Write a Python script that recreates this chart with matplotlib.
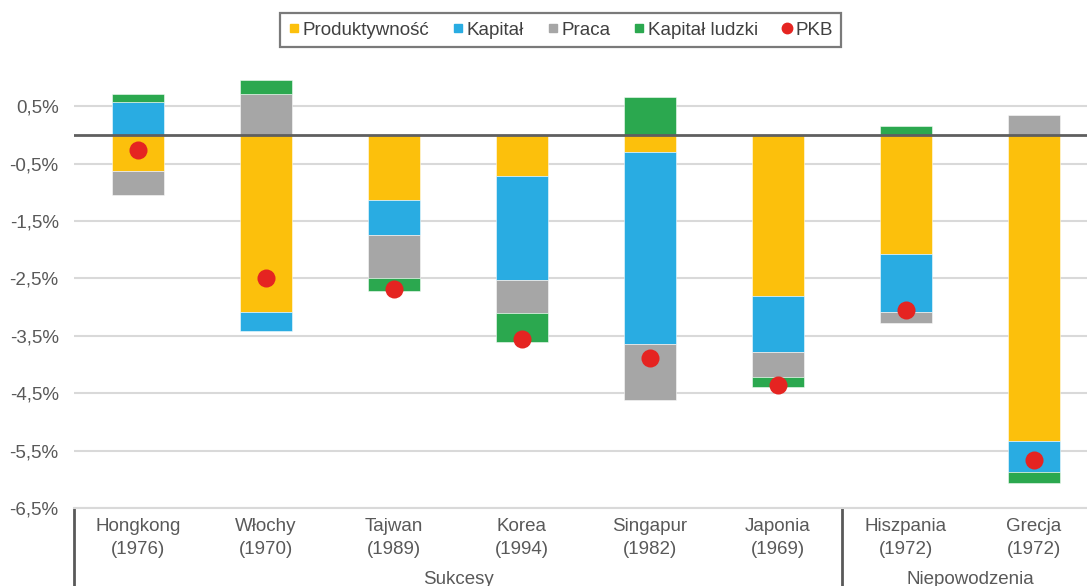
import numpy as np
import matplotlib
matplotlib.use("Agg")
import matplotlib.pyplot as plt
from matplotlib.lines import Line2D
from matplotlib import transforms

plt.rcParams['font.family'] = ['Liberation Sans', 'DejaVu Sans']

categories = ["Hongkong\n(1976)", "Włochy\n(1970)", "Tajwan\n(1989)", "Korea\n(1994)",
              "Singapur\n(1982)", "Japonia\n(1969)", "Hiszpania\n(1972)", "Grecja\n(1972)"]
groups = ["Sukcesy", "Niepowodzenia"]
group_sizes = [6, 2]

produktywnosc = [-0.63, -3.09, -1.14, -0.72, -0.30, -2.81, -2.07, -5.33]
kapital       = [0.58, -0.33, -0.61, -1.81, -3.34, -0.97, -1.02, -0.55]
praca         = [-0.41, 0.71, -0.74, -0.57, -0.98, -0.43, -0.18, 0.35]
kapital_ludzki = [0.13, 0.24, -0.23, -0.50, 0.67, -0.18, 0.16, -0.19]
pkb           = [-0.27, -2.50, -2.69, -3.56, -3.89, -4.36, -3.05, -5.67]

series_names = ["Produktywność", "Kapitał", "Praca", "Kapitał ludzki"]
series_vals = [produktywnosc, kapital, praca, kapital_ludzki]
colors = ["#FCC00C", "#29ACE2", "#A6A6A6", "#2BA84F"]
red = "#E52421"

yticks = [0.5, -0.5, -1.5, -2.5, -3.5, -4.5, -5.5, -6.5]
ytick_labels = ["0,5%", "-0,5%", "-1,5%", "-2,5%", "-3,5%", "-4,5%", "-5,5%", "-6,5%"]

W, H = 1087, 586
fig = plt.figure(figsize=(W / 100, H / 100), dpi=100)
ymin, ymax = -6.5, 1.3
px_per_unit = 373 / 6.5
ax_bottom_px = 508
ax_top_px = 135 - ymax * px_per_unit
ax = fig.add_axes([74 / W, (H - ax_bottom_px) / H, 1024 / W, (ax_bottom_px - ax_top_px) / H])

x = np.arange(len(categories))
pos_bottom = np.zeros(len(x))
neg_bottom = np.zeros(len(x))
for vals, c in zip(series_vals, colors):
    v = np.array(vals)
    bottom = np.where(v >= 0, pos_bottom, neg_bottom)
    ax.bar(x, v, bottom=bottom, width=0.414, color=c, edgecolor=(1, 1, 1, 0.6),
           linewidth=0.6, zorder=2)
    pos_bottom += np.clip(v, 0, None)
    neg_bottom += np.clip(v, None, 0)

ax.scatter(x, pkb, s=13 ** 2, color=red, zorder=4, linewidths=0)
ax.axhline(0, color="#5F5F5F", linewidth=2, zorder=3)

ax.set_xlim(-0.5, len(x) - 0.5)
ax.set_ylim(ymin, ymax)
ax.set_yticks(yticks)
ax.set_yticklabels(ytick_labels)
ax.yaxis.grid(True, color="#D9D9D9", linewidth=1.5, zorder=0)
ax.set_axisbelow(True)
ax.tick_params(axis='y', length=0, pad=11, labelsize=13.5, labelcolor="#595959")
ax.set_xticks(x)
ax.set_xticklabels(categories, linespacing=1.45)
ax.tick_params(axis='x', length=0, pad=7, labelsize=13.5, labelcolor="#595959")
for s in ["top", "right", "left"]:
    ax.spines[s].set_visible(False)
ax.spines["bottom"].set_color("#D9D9D9")
ax.spines["bottom"].set_linewidth(1.5)

# group labels and separators
trans = transforms.blended_transform_factory(ax.transData, fig.transFigure)
start = -0.5
bottom_fig = (H - ax_bottom_px) / H
ax.plot([start, start], [0, bottom_fig], transform=trans, color="#595959",
        linewidth=2, clip_on=False)
for g, n in zip(groups, group_sizes):
    end = start + n
    ax.text((start + end) / 2, (H - 571) / H, g, transform=trans, ha="center", va="top",
            fontsize=13.5, color="#595959")
    if end < len(x) - 0.5:
        ax.plot([end, end], [0, bottom_fig], transform=trans, color="#595959",
                linewidth=2, clip_on=False)
    start = end

handles = [Line2D([], [], linestyle="none", marker="s", markersize=6, color=c) for c in colors]
handles.append(Line2D([], [], linestyle="none", marker="o", markersize=7.5, color=red))
labels = series_names + ["PKB"]
leg = fig.legend(handles, labels, loc="center", bbox_to_anchor=(560.5 / W, (H - 30) / H),
                 ncol=5, frameon=True, fancybox=False, fontsize=13.5,
                 handlelength=0.6, handletextpad=0.15, columnspacing=1.25,
                 borderpad=0.45, labelcolor="#404040")
leg.get_frame().set_edgecolor("#595959")
leg.get_frame().set_linewidth(1.6)

fig.savefig("out.png", dpi=100)
